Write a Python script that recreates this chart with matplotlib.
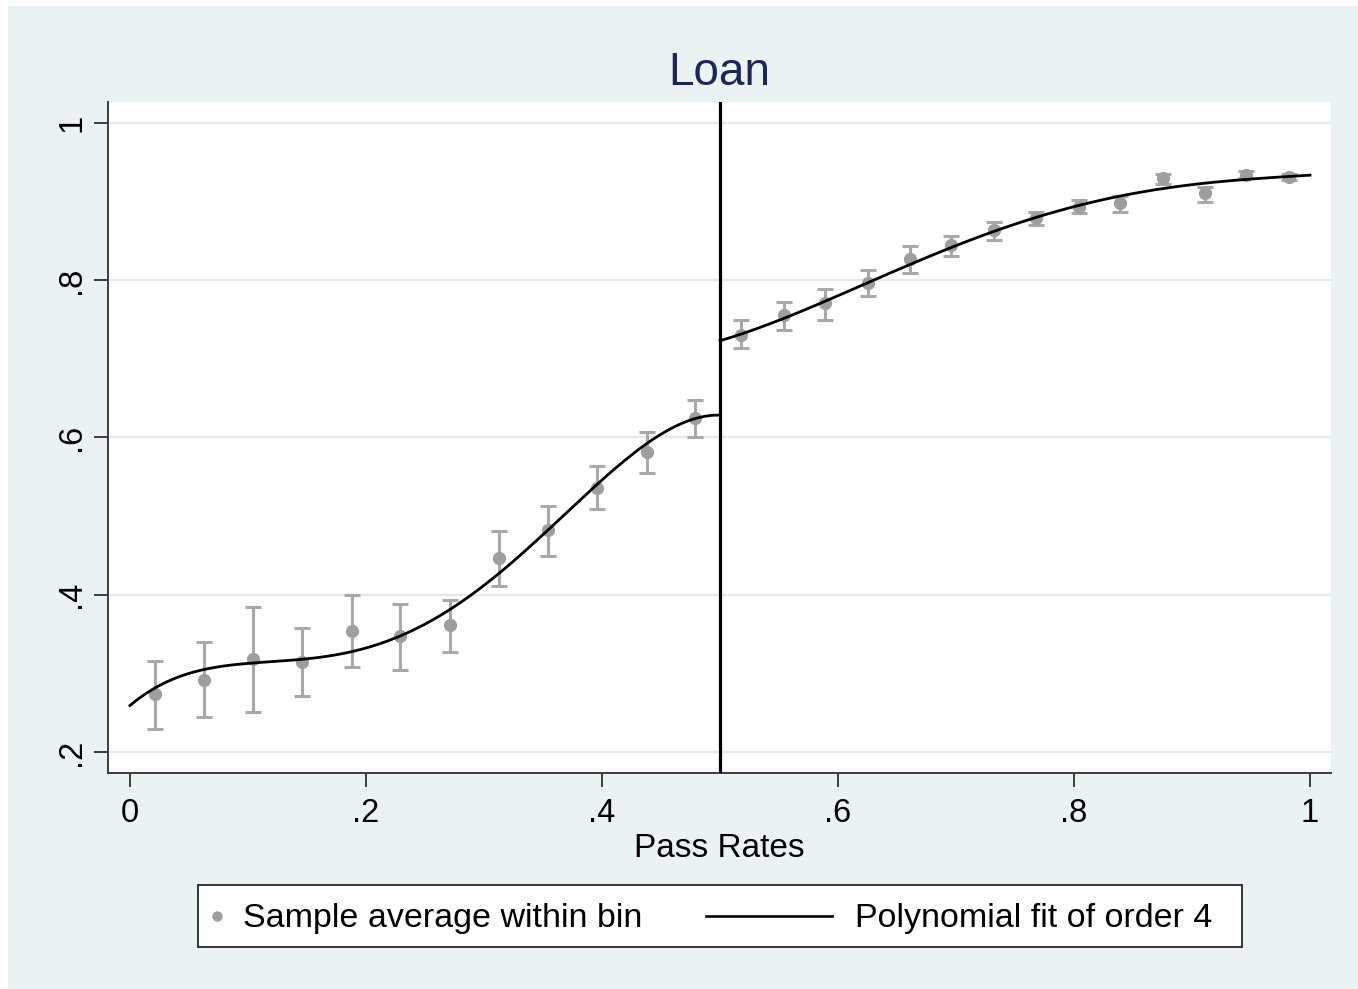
import numpy as np
import matplotlib.pyplot as plt
from matplotlib.patches import Rectangle
from matplotlib.lines import Line2D

plt.rcParams['font.family'] = ['Liberation Sans', 'DejaVu Sans']

# bin means and 95% CI, below the cutoff
left_x = [0.021, 0.063, 0.104, 0.146, 0.188, 0.229, 0.271, 0.313, 0.354, 0.396, 0.438, 0.479]
left_mean = [0.274, 0.291, 0.318, 0.314, 0.354, 0.347, 0.361, 0.447, 0.482, 0.536, 0.581, 0.625]
left_lo = [0.229, 0.244, 0.251, 0.271, 0.308, 0.304, 0.327, 0.411, 0.449, 0.509, 0.555, 0.600]
left_hi = [0.316, 0.340, 0.384, 0.358, 0.400, 0.388, 0.393, 0.481, 0.513, 0.564, 0.607, 0.648]

# bin means and 95% CI, above the cutoff
right_x = [0.518, 0.554, 0.589, 0.625, 0.661, 0.696, 0.732, 0.768, 0.804, 0.839, 0.875, 0.911, 0.946, 0.982]
right_mean = [0.731, 0.756, 0.771, 0.796, 0.827, 0.845, 0.864, 0.879, 0.893, 0.898, 0.930, 0.911, 0.934, 0.931]
right_lo = [0.714, 0.737, 0.749, 0.780, 0.809, 0.831, 0.851, 0.870, 0.885, 0.887, 0.922, 0.899, 0.930, 0.927]
right_hi = [0.749, 0.772, 0.789, 0.813, 0.843, 0.856, 0.874, 0.887, 0.902, 0.907, 0.935, 0.919, 0.939, 0.935]

# fitted values on each side of the cutoff
fit_left_x = [0.0, 0.021, 0.063, 0.104, 0.146, 0.188, 0.229, 0.271, 0.313, 0.354, 0.396, 0.438, 0.479, 0.5]
fit_left_y = [0.261, 0.279, 0.304, 0.314, 0.319, 0.330, 0.346, 0.378, 0.427, 0.485, 0.542, 0.590, 0.624, 0.629]
fit_right_x = [0.5, 0.518, 0.554, 0.589, 0.625, 0.661, 0.696, 0.732, 0.768, 0.804, 0.839, 0.875, 0.911, 0.946, 0.982, 1.0]
fit_right_y = [0.724, 0.730, 0.752, 0.774, 0.796, 0.819, 0.842, 0.864, 0.880, 0.894, 0.906, 0.917, 0.924, 0.929, 0.931, 0.934]

cutoff = 0.5
xticks = [0, 0.2, 0.4, 0.6, 0.8, 1.0]
xtick_labels = ['0', '.2', '.4', '.6', '.8', '1']
yticks = [0.2, 0.4, 0.6, 0.8, 1.0]
ytick_labels = ['.2', '.4', '.6', '.8', '1']

BG = '#eaf2f3'
GRID = '#e1ebef'
AXC = '#3c3c3c'
PT_C = '#9e9e9e'
ERR_C = '#a9a9a9'

W, H = 1358, 989
fig = plt.figure(figsize=(W / 100, H / 100), dpi=100, facecolor='white')
fig.patches.append(Rectangle((8 / W, 0), 1, 1 - 6 / H, transform=fig.transFigure,
                             facecolor=BG, edgecolor='none', zorder=-10))

ax = fig.add_axes([108 / W, 1 - 773 / H, (1331 - 108) / W, (773 - 102) / H])
ax.set_facecolor('white')
ax.set_xlim(-22 / 1180, 1 + 21 / 1180)
ax.set_ylim(0.2 - 21 / 786.25, 1 + 21 / 786.25)


def draw_side(x, mean, lo, hi, fx, fy):
    mean = np.asarray(mean)
    yerr = [mean - np.asarray(lo), np.asarray(hi) - mean]
    ax.errorbar(x, mean, yerr=yerr, fmt='o', color=PT_C, ecolor=ERR_C,
                markersize=8.5, elinewidth=2.2, capsize=6, capthick=2.2, zorder=3)
    coef = np.polyfit(fx, fy, 4)
    xs = np.linspace(min(fx), max(fx), 200)
    ax.plot(xs, np.polyval(coef, xs), color='black', lw=2.0, zorder=4)


draw_side(left_x, left_mean, left_lo, left_hi, fit_left_x, fit_left_y)
draw_side(right_x, right_mean, right_lo, right_hi, fit_right_x, fit_right_y)
ax.axvline(cutoff, color='black', lw=2.3, zorder=5)

for y in yticks:
    ax.axhline(y, color=GRID, lw=1.6, zorder=1)

for side in ['top', 'right']:
    ax.spines[side].set_visible(False)
for side in ['left', 'bottom']:
    ax.spines[side].set_color(AXC)
    ax.spines[side].set_linewidth(1.4)

ax.set_xticks(xticks)
ax.set_xticklabels(xtick_labels, fontsize=23.5)
ax.set_yticks(yticks)
ax.set_yticklabels(ytick_labels, fontsize=23.5, rotation=90, va='center')
ax.tick_params(axis='both', direction='out', length=10, width=1.4, color=AXC)
ax.tick_params(axis='x', pad=8)
ax.tick_params(axis='y', pad=5)

ax.set_title('Loan', fontsize=33, color='#1c2757', pad=12)
ax.set_xlabel('Pass Rates', fontsize=24)
ax.xaxis.set_label_coords(0.5, -0.089)

# legend box
fig.patches.append(Rectangle((198 / W, 1 - 947 / H), (1242 - 198) / W, 62 / H,
                             transform=fig.transFigure, facecolor='white',
                             edgecolor='#333333', lw=1.4, zorder=2))
ly = 1 - 916 / H
fig.lines.append(Line2D([217 / W], [ly], transform=fig.transFigure, marker='o',
                        markersize=6.5, color=PT_C, ls='none', zorder=3))
fig.text(243 / W, ly - 2 / H, 'Sample average within bin', fontsize=24.5, va='center', ha='left')
fig.lines.append(Line2D([706 / W, 832 / W], [ly, ly], transform=fig.transFigure,
                        color='black', lw=1.9, zorder=3))
fig.text(855 / W, ly - 2 / H, 'Polynomial fit of order 4', fontsize=24.5, va='center', ha='left')

fig.savefig('out.png', dpi=100, facecolor=fig.get_facecolor())
